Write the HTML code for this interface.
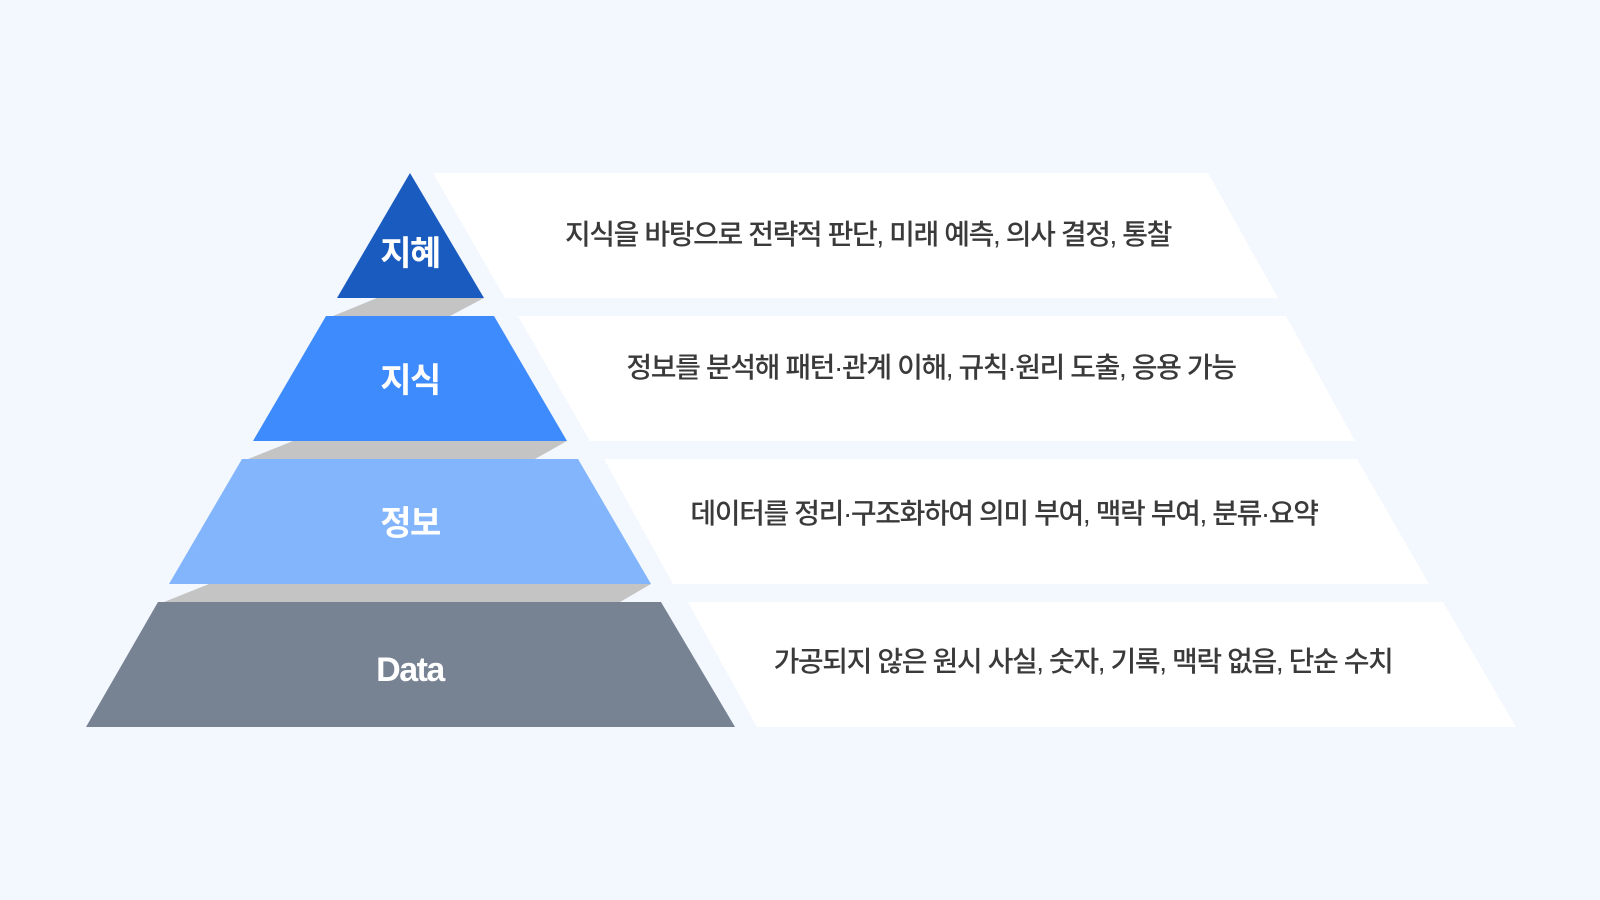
<!DOCTYPE html>
<html><head><meta charset="utf-8"><style>
html,body{margin:0;padding:0;background:#f3f7fe;}
svg{display:block}
.d{font-family:"Liberation Sans","Noto Sans CJK KR",sans-serif;font-size:28px;fill:#3a3a3a;font-weight:500;letter-spacing:-1.4px}
.l{font-family:"Liberation Sans","Noto Sans CJK KR",sans-serif;font-size:34px;fill:#fff;font-weight:700;letter-spacing:-1.5px}
</style></head><body>
<svg width="1600" height="900" viewBox="0 0 1600 900" xmlns="http://www.w3.org/2000/svg">
<rect width="1600" height="900" fill="#f3f7fe"/>
<polygon points="433,173 1208,173 1278,298 505,298" fill="#fff"/>
<polygon points="518,316 1286,316 1355,441 590,441" fill="#fff"/>
<polygon points="604,459 1357,459 1429,584 673,584" fill="#fff"/>
<polygon points="688,602 1443,602 1516,727 757,727" fill="#fff"/>
<polygon points="377,298 484,298 450,316 333,316" fill="#c4c4c4"/>
<polygon points="293,441 567,441 535,459 248,459" fill="#c4c4c4"/>
<polygon points="209,584 651,584 620,602 164,602" fill="#c4c4c4"/>
<polygon points="410,173 484,298 337,298" fill="#1a5bbf"/>
<polygon points="326,316 494,316 567,441 253,441" fill="#3d8bfd"/>
<polygon points="242,459 578,459 651,584 169,584" fill="#82b5fc"/>
<polygon points="158,602 661,602 735,727 86,727" fill="#778293"/>
<text class="l" x="410" y="265" text-anchor="middle">지혜</text>
<text class="l" x="410" y="392" text-anchor="middle">지식</text>
<text class="l" x="410" y="535" text-anchor="middle">정보</text>
<text class="l" x="410" y="681" text-anchor="middle">Data</text>
<text class="d" x="868" y="244" text-anchor="middle">지식을 바탕으로 전략적 판단, 미래 예측, 의사 결정, 통찰</text>
<text class="d" x="931" y="377" text-anchor="middle">정보를 분석해 패턴·관계 이해, 규칙·원리 도출, 응용 가능</text>
<text class="d" x="1004" y="523" text-anchor="middle">데이터를 정리·구조화하여 의미 부여, 맥락 부여, 분류·요약</text>
<text class="d" x="1083" y="671" text-anchor="middle">가공되지 않은 원시 사실, 숫자, 기록, 맥락 없음, 단순 수치</text>
</svg>
</body></html>
